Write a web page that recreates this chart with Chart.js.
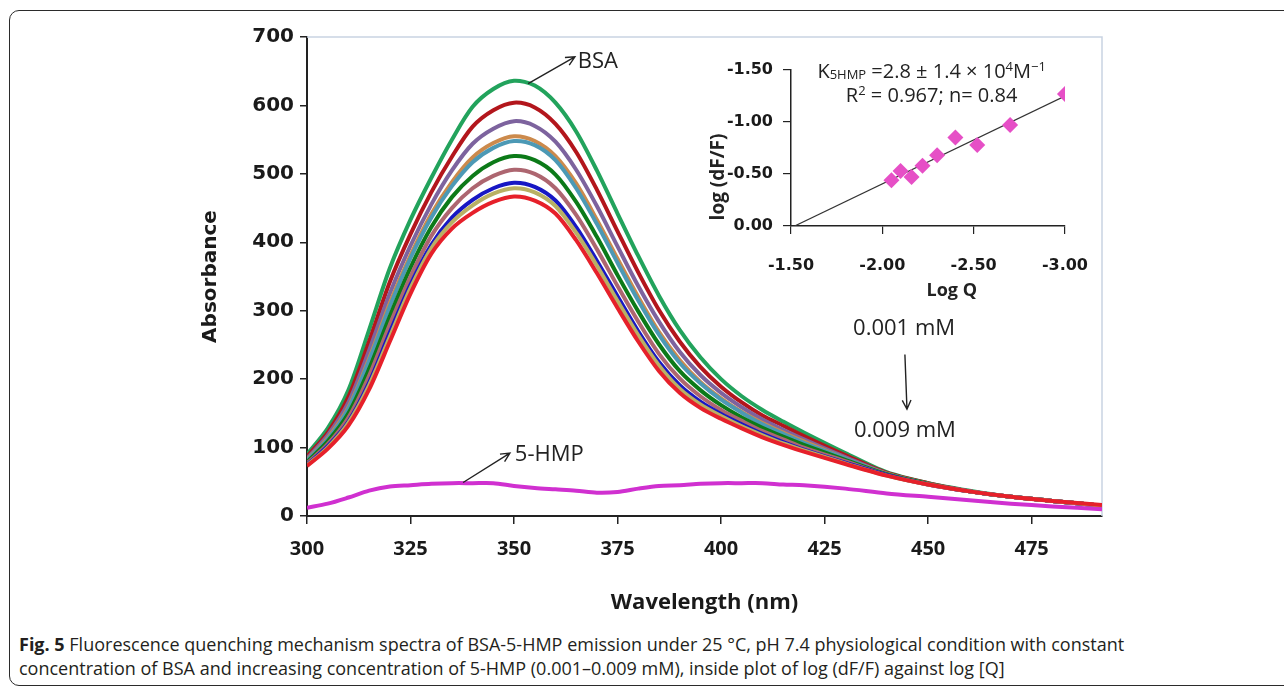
<!DOCTYPE html>
<html>
<head>
<meta charset="utf-8">
<title>BSA-5-HMP fluorescence quenching</title>
<script src="https://cdn.jsdelivr.net/npm/chart.js@4.4.1/dist/chart.umd.min.js"></script>
<style>
  body { margin: 0; background: #fff; width: 1284px; height: 687px; overflow: hidden; position: relative; font-family: 'Open Sans', sans-serif; }
  .frame { position: absolute; left: 9px; top: 10px; width: 1300px; height: 676px; border: 1.5px solid #2b2b2b; border-radius: 10px; box-sizing: border-box; }
  #mainWrap { position: absolute; left: 0; top: 0; width: 1284px; height: 630px; }
  #insetWrap { position: absolute; left: 690px; top: 45px; width: 420px; height: 265px; }
  .caption { position: absolute; left: 19px; top: 632px; font-size: 18px; line-height: 24px; color: #231f20; white-space: nowrap; }
  .caption b { font-weight: 700; }
</style>
</head>
<body>
<div class="frame"></div>
<div id="mainWrap"><canvas id="spectra"></canvas></div>
<div id="insetWrap"><canvas id="inset"></canvas></div>
<div class="caption"><b>Fig. 5</b> Fluorescence quenching mechanism spectra of BSA-5-HMP emission under 25 °C, pH 7.4 physiological condition with constant<br>concentration of BSA and increasing concentration of 5-HMP (0.001–0.009 mM), inside plot of log (dF/F) against log [Q]</div>

<script>
// wavelengths (nm)
const wavelength = [300, 305, 310, 315, 320, 325, 330, 335, 340, 345, 350, 355, 360, 365, 370, 375, 380, 385, 390, 395, 400, 405, 410, 415, 420, 430, 440, 450, 460, 470, 480, 492];

// BSA spectra, 0 -> 0.009 mM 5-HMP (top curve to bottom curve)
const bsa0 = [90, 128, 184, 272, 362, 433, 494, 550, 598, 624, 636, 629, 604, 562, 505, 442, 380, 322, 272, 232, 200, 175, 155, 138, 122, 92, 64, 48, 37, 28, 22, 15];
const bsa1 = [87, 122, 174, 255, 342, 412, 473, 525, 569, 593, 604, 597, 573, 532, 477, 416, 356, 301, 255, 218, 189, 166, 147, 132, 117, 89, 63, 48, 36, 28, 22, 15];
const bsa2 = [84, 118, 166, 242, 325, 395, 455, 505, 544, 566, 577, 570, 547, 506, 453, 394, 336, 284, 240, 206, 180, 159, 141, 126, 112, 86, 62, 47, 36, 28, 22, 15];
const bsa3 = [82, 114, 159, 230, 311, 381, 441, 488, 524, 545, 555, 548, 526, 486, 433, 376, 320, 269, 228, 196, 172, 152, 136, 122, 109, 84, 62, 47, 36, 28, 22, 15];
const bsa4 = [81, 112, 157, 227, 306, 377, 436, 482, 517, 538, 548, 542, 520, 479, 427, 370, 315, 265, 224, 194, 170, 151, 134, 120, 107, 84, 61, 47, 36, 28, 22, 15];
const bsa5 = [79, 109, 150, 215, 292, 363, 422, 466, 497, 517, 526, 520, 499, 459, 408, 352, 299, 251, 212, 184, 162, 144, 129, 116, 104, 82, 61, 47, 36, 28, 22, 15];
const bsa6 = [77, 105, 144, 205, 280, 350, 409, 450, 479, 497, 506, 500, 479, 440, 390, 336, 284, 237, 201, 175, 155, 139, 124, 112, 100, 80, 60, 46, 36, 28, 22, 15];
const bsa7 = [75, 102, 138, 195, 268, 338, 396, 436, 462, 479, 487, 481, 461, 422, 373, 321, 270, 225, 191, 167, 149, 134, 120, 108, 97, 78, 60, 46, 36, 28, 22, 15];
const bsa8 = [74, 100, 136, 191, 262, 333, 391, 429, 454, 471, 479, 473, 453, 414, 366, 314, 264, 220, 186, 163, 146, 131, 118, 106, 96, 77, 59, 46, 36, 28, 22, 15];
const bsa9 = [73, 98, 132, 185, 255, 325, 383, 420, 443, 459, 467, 461, 442, 403, 355, 304, 255, 212, 180, 158, 142, 128, 115, 104, 94, 76, 59, 46, 36, 28, 22, 16];
const hmp  = [12, 18, 27, 37, 43, 45, 47, 48, 48, 48, 44, 41, 39, 37, 34, 35, 40, 44, 45, 47, 48, 48, 48, 46, 45, 40, 33, 28, 23, 18, 14, 10];

const yTicks = [0, 100, 200, 300, 400, 500, 600, 700];
const xTicks = [300, 325, 350, 375, 400, 425, 450, 475];

// inset: log Q vs log (dF/F)
const logQ  = [-2.05, -2.10, -2.16, -2.22, -2.30, -2.40, -2.52, -2.70, -3.00];
const logDF = [-0.44, -0.53, -0.47, -0.58, -0.68, -0.85, -0.78, -0.97, -1.27];
const fitQ  = [-1.52, -3.00];
const fitDF = [0.00, -1.25];

const toXY = (xs, ys) => xs.map((v, i) => ({ x: v, y: ys[i] }));

const series = [
  { data: bsa0, color: '#22a35c' },
  { data: bsa1, color: '#b3161c' },
  { data: bsa2, color: '#7d639e' },
  { data: bsa3, color: '#cc8a4c' },
  { data: bsa4, color: '#4c99b5' },
  { data: bsa5, color: '#0c7a18' },
  { data: bsa6, color: '#ad6670' },
  { data: bsa7, color: '#1717c4' },
  { data: bsa8, color: '#b9b064' },
  { data: bsa9, color: '#e6202a' },
  { data: hmp,  color: '#d030d0' }
];

function arrow(ctx, x1, y1, x2, y2, head) {
  const a = Math.atan2(y2 - y1, x2 - x1);
  ctx.beginPath();
  ctx.moveTo(x1, y1);
  ctx.lineTo(x2, y2);
  ctx.moveTo(x2 - head * Math.cos(a - 0.45), y2 - head * Math.sin(a - 0.45));
  ctx.lineTo(x2, y2);
  ctx.lineTo(x2 - head * Math.cos(a + 0.45), y2 - head * Math.sin(a + 0.45));
  ctx.stroke();
}

// light frame on top/right of plot area
const plotFrame = {
  id: 'plotFrame',
  beforeDatasetsDraw(chart) {
    const { ctx, chartArea: a } = chart;
    ctx.save();
    ctx.strokeStyle = '#c9d3e2';
    ctx.lineWidth = 1.5;
    ctx.beginPath();
    ctx.moveTo(a.left, a.top);
    ctx.lineTo(a.right, a.top);
    ctx.lineTo(a.right, a.bottom);
    ctx.stroke();
    ctx.restore();
  }
};

const labels = {
  id: 'labels',
  afterDatasetsDraw(chart) {
    const { ctx, scales: { x, y } } = chart;
    ctx.save();
    ctx.strokeStyle = '#222';
    ctx.fillStyle = '#222';
    ctx.lineWidth = 1.4;
    arrow(ctx, x.getPixelForValue(353.4), y.getPixelForValue(632), x.getPixelForValue(364.7), y.getPixelForValue(671), 10);
    arrow(ctx, x.getPixelForValue(337.7), y.getPixelForValue(49), x.getPixelForValue(349), y.getPixelForValue(92), 10);
    arrow(ctx, x.getPixelForValue(444.4), y.getPixelForValue(236), x.getPixelForValue(444.9), y.getPixelForValue(156), 10);
    ctx.font = '22px "Open Sans"';
    ctx.textBaseline = 'middle';
    ctx.textAlign = 'left';
    ctx.fillText('BSA', x.getPixelForValue(365.4), y.getPixelForValue(664));
    ctx.fillText('5-HMP', x.getPixelForValue(350.2), y.getPixelForValue(90));
    ctx.textAlign = 'center';
    ctx.fillText('0.001 mM', x.getPixelForValue(444.2), y.getPixelForValue(273));
    ctx.fillText('0.009 mM', x.getPixelForValue(444.4), y.getPixelForValue(124));
    ctx.restore();
  }
};

new Chart(document.getElementById('spectra').getContext('2d'), {
  type: 'line',
  data: {
    datasets: series.map((s, i) => ({
      data: toXY(wavelength, s.data),
      borderColor: s.color,
      backgroundColor: s.color,
      borderWidth: 4,
      pointRadius: 0,
      fill: false,
      tension: 0.3,
      order: i === 9 ? 0 : (i === 10 ? 1 : 12 - i)
    }))
  },
  options: {
    responsive: true,
    maintainAspectRatio: false,
    animation: false,
    layout: { padding: { top: 37, right: 182, left: 0, bottom: 0 }, autoPadding: false },
    plugins: { legend: { display: false }, tooltip: { enabled: false } },
    scales: {
      x: {
        type: 'linear',
        min: 300,
        max: 492,
        afterFit(s) { s.height = 114; },
        afterBuildTicks(s) { s.ticks = xTicks.map(v => ({ value: v })); },
        grid: { drawOnChartArea: false, drawTicks: true, tickLength: 8, color: '#222', lineWidth: 1.5 },
        border: { color: '#222', width: 2 },
        ticks: { padding: 13, color: '#1a1a1a', font: { family: 'Open Sans', weight: 'bold', size: 20 } },
        title: { display: true, text: 'Wavelength (nm)', color: '#1a1a1a', font: { family: 'Open Sans', weight: 'bold', size: 22 }, padding: { top: 0, bottom: 14 } }
      },
      y: {
        min: 0,
        max: 700,
        afterFit(s) { s.width = 307; },
        afterBuildTicks(s) { s.ticks = yTicks.map(v => ({ value: v })); },
        grid: { drawOnChartArea: false, drawTicks: true, tickLength: 7, color: '#222', lineWidth: 1.5 },
        border: { color: '#222', width: 2 },
        ticks: { padding: 6, color: '#1a1a1a', font: { family: 'DejaVu Sans', weight: 'bold', size: 20 } },
        title: { display: true, text: 'Absorbance', color: '#1a1a1a', font: { family: 'DejaVu Sans', weight: 'bold', size: 20 }, padding: { top: 199, bottom: 0 } }
      }
    }
  },
  plugins: [plotFrame, labels]
});

// inset text: equation and axis titles
function drawParts(ctx, parts, cx, cy) {
  let total = 0;
  parts.forEach(p => { ctx.font = p.size + 'px "Open Sans"'; p.w = ctx.measureText(p.t).width; total += p.w; });
  let x = cx - total / 2;
  parts.forEach(p => {
    ctx.font = p.size + 'px "Open Sans"';
    ctx.fillText(p.t, x, cy + (p.dy || 0));
    x += p.w;
  });
}

const insetText = {
  id: 'insetText',
  afterDatasetsDraw(chart) {
    const { ctx, scales: { x, y }, chartArea: a } = chart;
    ctx.save();
    ctx.fillStyle = '#222';
    ctx.textBaseline = 'alphabetic';
    ctx.textAlign = 'left';
    drawParts(ctx, [
      { t: 'K', size: 20 },
      { t: '5HMP', size: 13, dy: 1 },
      { t: ' =2.8 ± 1.4 × 10', size: 20 },
      { t: '4', size: 13, dy: -7 },
      { t: 'M', size: 20 },
      { t: '−1', size: 13, dy: -7 }
    ], x.getPixelForValue(-2.27), y.getPixelForValue(-1.425));
    drawParts(ctx, [
      { t: 'R', size: 20 },
      { t: '2', size: 13, dy: -7 },
      { t: ' = 0.967; n= 0.84', size: 20 }
    ], x.getPixelForValue(-2.27), y.getPixelForValue(-1.19));

    ctx.font = 'bold 18px "Open Sans"';
    ctx.textBaseline = 'middle';
    ctx.textAlign = 'center';
    ctx.fillText('Log Q', x.getPixelForValue(-2.38), a.bottom + 65);
    ctx.font = 'bold 19px "Open Sans"';
    ctx.translate(a.left - 72, (a.top + a.bottom) / 2 + 29);
    ctx.rotate(-Math.PI / 2);
    ctx.fillText('log (dF/F)', 0, 0);
    ctx.restore();
  }
};

new Chart(document.getElementById('inset').getContext('2d'), {
  type: 'scatter',
  data: {
    datasets: [
      {
        data: toXY(logQ, logDF),
        pointStyle: 'rectRot',
        pointRadius: 8,
        backgroundColor: '#e64fc6',
        borderColor: '#e64fc6',
        borderWidth: 0
      },
      {
        data: toXY(fitQ, fitDF),
        showLine: true,
        pointRadius: 0,
        borderColor: '#333',
        borderWidth: 1.2
      }
    ]
  },
  options: {
    responsive: true,
    maintainAspectRatio: false,
    animation: false,
    layout: { padding: { top: 25, right: 40, left: 0, bottom: 0 }, autoPadding: false },
    plugins: { legend: { display: false }, tooltip: { enabled: false } },
    scales: {
      x: {
        type: 'linear',
        reverse: true,
        min: -3,
        max: -1.5,
        afterFit(s) { s.height = 84; },
        grid: { drawOnChartArea: false, drawTicks: true, tickLength: 8, color: '#222', lineWidth: 1.2 },
        border: { color: '#222', width: 1.5 },
        ticks: { stepSize: 0.5, padding: 22, color: '#1a1a1a', font: { family: 'DejaVu Sans', weight: 'bold', size: 16 }, callback: v => v.toFixed(2) }
      },
      y: {
        type: 'linear',
        reverse: true,
        min: -1.5,
        max: 0,
        afterFit(s) { s.width = 101; },
        grid: { drawOnChartArea: false, drawTicks: true, tickLength: 8, color: '#222', lineWidth: 1.2 },
        border: { color: '#222', width: 1.5 },
        ticks: { stepSize: 0.5, padding: 10, color: '#1a1a1a', font: { family: 'DejaVu Sans', weight: 'bold', size: 16 }, callback: v => v.toFixed(2) }
      }
    }
  },
  plugins: [insetText]
});
</script>
</body>
</html>
